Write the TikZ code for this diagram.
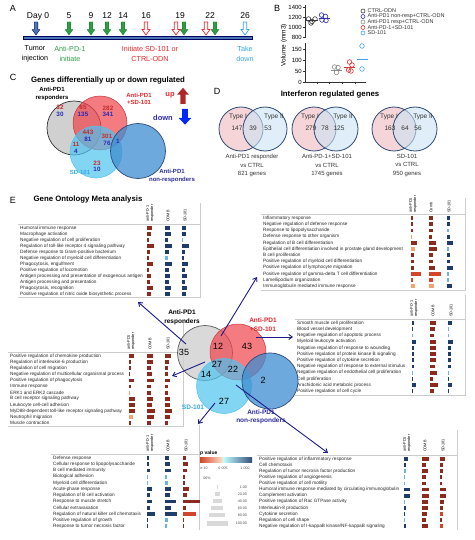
\documentclass[tikz,border=0pt]{standalone}
\usepackage{fontspec}
\setmainfont{Liberation Sans}
\usetikzlibrary{arrows.meta}

\definecolor{navyarr}{HTML}{1C1C8C}
\definecolor{dred}{HTML}{8A2B1D}
\definecolor{mred}{HTML}{D2452B}
\definecolor{orng}{HTML}{F2A46E}
\definecolor{dblue}{HTML}{1F3D6B}
\definecolor{lblue}{HTML}{6CB4E2}
\definecolor{tgreen}{HTML}{2E9E45}
\definecolor{tred}{HTML}{E8262B}
\definecolor{tcyan}{HTML}{33A9E0}
\definecolor{tnavy}{HTML}{2B2B9B}
\definecolor{barblue}{HTML}{4A78B2}
\definecolor{cred}{HTML}{C42A2A}
\definecolor{cblue}{HTML}{2A2AB8}
\definecolor{vgrey}{HTML}{C4C4C4}
\definecolor{vred}{HTML}{F0434A}
\definecolor{vcyan}{HTML}{4EC3F0}
\definecolor{vblue}{HTML}{3C8CD0}
\definecolor{dpink}{HTML}{F6D5D8}
\definecolor{dlblue}{HTML}{C9E3F3}
\definecolor{dring}{HTML}{2D4A78}
\definecolor{ctrlc}{HTML}{3A3A3A}
\definecolor{nonc}{HTML}{3030B0}
\definecolor{respc}{HTML}{8A8A8A}
\definecolor{combc}{HTML}{E03030}
\definecolor{sdc}{HTML}{4AA0E0}

\tikzset{
  every node/.style={inner sep=0pt},
  plabel/.style={font=\fontsize{9}{9}\selectfont},
  ptitle/.style={font=\bfseries\fontsize{7.8}{8}\selectfont},
  daylbl/.style={font=\fontsize{8.5}{8.5}\selectfont},
  sublbl/.style={align=center, font=\fontsize{7.2}{9.6}\selectfont},
  tick/.style={font=\fontsize{6}{6}\selectfont},
  leg/.style={anchor=west, font=\fontsize{5.5}{5.5}\selectfont, text=black!80},
  dpt/.style={draw=#1, line width=0.6pt},
  axis/.style={draw=black!80, line width=0.5pt},
  cnum/.style={align=center, font=\bfseries\fontsize{6.3}{6.6}\selectfont},
  clbl/.style={align=center, font=\bfseries\fontsize{6}{7.6}\selectfont},
  elbl/.style={align=center, font=\bfseries\fontsize{6.5}{8.5}\selectfont},
  enum/.style={font=\fontsize{9}{9}\selectfont},
  dtxt/.style={font=\fontsize{6.5}{6.5}\selectfont, text=black!80},
  dlbl/.style={align=center, font=\fontsize{6}{8.5}\selectfont, text=black!80},
  goitem/.style={anchor=west, font=\fontsize{4.7}{4.7}\selectfont, text=black!85},
  gohead/.style={rotate=90, anchor=west, align=left, font=\fontsize{3.8}{4.2}\selectfont},
  goframe/.style={draw=black!20, line width=0.4pt},
  goarrow/.style={draw=navyarr, line width=0.9pt, -{Straight Barb[length=3.5pt,width=5pt]}},
  legtxt/.style={font=\fontsize{3.6}{3.6}\selectfont, text=black!70},
  dayarrow/.pic={\path[pic actions] (-1.8,0) -- (1.8,0) -- (1.8,7.5) -- (3.9,7.5) -- (0,13) -- (-3.9,7.5) -- (-1.8,7.5) -- cycle;},
}

\newcommand{\gobox}[8]{%
  \foreach[count=\i] \t/\wa/\ca/\wb/\cb/\wc/\cc in {#8}{%
    \pgfmathsetmacro{\ry}{#3+(\i-1)*#4}
    \node[goitem] (#1-\i) at (#2,\ry) {\t};
    \fill[\ca] (#5,\ry-1.9) rectangle ++(\wa,3.8);
    \fill[\cb] (#6,\ry-1.9) rectangle ++(\wb,3.8);
    \fill[\cc] (#7,\ry-1.9) rectangle ++(\wc,3.8);
  }}

\begin{document}
\begin{tikzpicture}[x=1pt, y=-1pt]
\useasboundingbox (0,0) rectangle (474,540);

% A
\node[plabel] (la) at (13,8) {A};
\fill[barblue, draw=black!60!blue, line width=0.4pt] (23,36.5) rectangle (252,39.5);
\pic[fill=barblue, draw=black!60!blue, line width=0.4pt] at (36,22) {dayarrow};
\foreach \x in {69,91,107,123,184,215}
  \pic[fill=tgreen, draw=tgreen!70!black, line width=0.3pt] at (\x,22) {dayarrow};
\foreach \x in {146,176,206}
  \pic[fill=white, draw=tred, line width=0.7pt] at (\x,22) {dayarrow};
\pic[fill=white, draw=tcyan, line width=0.7pt] at (245,22) {dayarrow};
\node[daylbl] (day0) at (38,16) {Day 0};
\foreach \d/\x in {5/69,9/91,12/107,14/123,16/146,19/180,22/210,26/245}
  \node[daylbl] (day\d) at (\x,16) {\d};
\node[sublbl] (tum) at (35,54) {Tumor\\injection};
\node[sublbl, text=tgreen] (apd) at (70,54) {Anti-PD-1\\initiate};
\node[sublbl, text=tred] (ini) at (150,54) {Initiate SD-101 or\\CTRL-ODN};
\node[sublbl, text=tcyan] (tak) at (245,54) {Take\\down};

% B
\node[plabel] (lb) at (277,8) {B};
\draw[axis] (305,5) -- (305,38);
\draw[axis] (305,43) -- (305,82) -- (366,82);
\foreach \v/\y in {1400/7,1200/17,1000/27,800/37,150/49,100/60,50/71,0/82}{
  \draw[axis] (302.5,\y) -- (305,\y);
  \node[tick, anchor=east] (yt\v) at (302,\y) {\v};
}
\foreach \x in {317,329,342,355}
  \draw[axis] (\x,82) -- (\x,84);
\node[rotate=90, font=\fontsize{6.5}{6.5}\selectfont] (vol) at (284,45) {Volume (mm3)};
\foreach \x/\y in {308.5/19,312/21.5,315/19,311/23}
  \draw[dpt=ctrlc] (\x,\y) circle (2.3);
\draw[ctrlc, line width=0.6pt] (306,20.5) -- (317.5,20.5);
\foreach \x/\y in {321.5/15,325.5/16.5,322/20,326/20.5}
  \draw[dpt=nonc] (\x,\y) circle (2.3);
\draw[nonc, line width=0.6pt] (318.5,18.5) -- (329.5,18.5);
\foreach \x/\y in {334.5/67,338/67.5,336.5/72.5}
  \draw[dpt=respc] (\x,\y) circle (2.3);
\draw[respc, line width=0.6pt] (331,70) -- (342,70);
\foreach \x/\y in {349.5/62,352/65,348.5/70,351/71}
  \draw[dpt=combc] (\x,\y) circle (2.3);
\draw[combc, line width=0.6pt] (344,67) -- (355,67);
\foreach \x/\y in {362/46,362/69}
  \draw[dpt=sdc] (\x,\y) circle (2.3);
\draw[sdc, line width=0.6pt] (356.5,59) -- (367.5,59);
\foreach \c/\y/\t in {ctrlc/11/CTRL-ODN, nonc/16.5/Anti-PD1 non-resp+CTRL-ODN, respc/22/Anti-PD1 resp+CTRL-ODN, combc/27.5/Anti-PD-1+SD-101, sdc/33/SD-101}{
  \draw[dpt=\c] (363,\y) circle (2);
  \node[leg] (lg\y) at (367.5,\y) {\t};
}

% C
\node[plabel] (lc) at (13,77) {C};
\node[ptitle] (ctitle) at (108,81) {Genes differentially up or down regulated};
\node[circle, minimum size=54, fill=vgrey, fill opacity=0.8, draw=black!80, line width=0.7pt] (cresp) at (74,128) {};
\node[circle, minimum size=54, fill=vred, fill opacity=0.7, draw=vred!80!black, line width=0.5pt] (ccomb) at (100,123) {};
\node[circle, minimum size=52, fill=vcyan, fill opacity=0.7, draw=vcyan, line width=0.5pt] (csd) at (96,152) {};
\node[circle, minimum size=55, fill=vblue, fill opacity=0.75, draw=dring, line width=0.7pt] (cnon) at (138,151) {};
\node[clbl] (cresl) at (52,94) {Anti-PD1\\responders};
\node[clbl, text=tred] (ccoml) at (139,99) {Anti-PD1\\+SD-101};
\node[clbl, text=tcyan] (csdl) at (80,172) {SD-101};
\node[clbl, text=tnavy] (cnonl) at (172,176) {Anti-PD1\\non-responders};
\node[cnum] (c32) at (60,111) {\textcolor{cred}{32}\\\textcolor{cblue}{30}};
\node[cnum] (c65) at (83,111) {\textcolor{cred}{65}\\\textcolor{cblue}{135}};
\node[cnum] (c282) at (108,111.5) {\textcolor{cred}{282}\\\textcolor{cblue}{341}};
\node[cnum] (c443) at (88,136) {\textcolor{cred}{443}\\\textcolor{cblue}{81}};
\node[cnum] (c301) at (107,140) {\textcolor{cred}{301}\\\textcolor{cblue}{76}};
\node[cnum, text=cblue] (c1) at (118,141) {1};
\node[cnum] (c11) at (76,148) {\textcolor{cred}{11}\\\textcolor{cblue}{4}};
\node[cnum] (c23) at (97,166.5) {\textcolor{cred}{23}\\\textcolor{cblue}{10}};
\node[font=\bfseries\fontsize{7.5}{7.5}\selectfont, text=tred] (cup) at (170,95) {up};
\node[font=\bfseries\fontsize{7.5}{7.5}\selectfont, text=cblue] (cdown) at (163,118) {down};
\pic[fill=cred!90!black, xscale=1.5, yscale=1.25, rotate=180] at (183,104) {dayarrow};
\pic[fill=blue!85!cyan, xscale=1.6, yscale=1.2] at (185,109) {dayarrow};

% D
\node[plabel] (ld) at (217,91) {D};
\node[ptitle] (dtitle) at (330,95) {Interferon regulated genes};
\foreach \p/\a/\b in {1/241/265, 2/314/336, 3/394/415}{
  \node[circle, minimum size=44, fill=dpink, draw=dring, line width=0.8pt] (dv\p a) at (\a,129) {};
  \node[circle, minimum size=44, fill=dlblue, fill opacity=0.6, draw=dring, line width=0.8pt] (dv\p b) at (\b,129) {};
}
\node[dtxt] (d1t1) at (238,117) {Type I};
\node[dtxt] (d1n1) at (237,128) {147};
\node[dtxt] (d1n2) at (253,128) {39};
\node[dtxt] (d1n3) at (268,128) {53};
\node[dtxt] (d1t2) at (274,117) {Type II};
\node[dtxt] (d2t1) at (310,117) {Type I};
\node[dtxt] (d2n1) at (311,128) {279};
\node[dtxt] (d2n2) at (325,128) {78};
\node[dtxt] (d2n3) at (339,128) {125};
\node[dtxt] (d2t2) at (343,117) {Type II};
\node[dtxt] (d3t1) at (389,117) {Type I};
\node[dtxt] (d3n1) at (390,128) {163};
\node[dtxt] (d3n2) at (405,128) {64};
\node[dtxt] (d3n3) at (418,128) {56};
\node[dtxt] (d3t2) at (423,117) {Type II};
\node[dlbl] (d1l) at (252,165.5) {Anti-PD1 responder\\vs CTRL\\821 genes};
\node[dlbl] (d2l) at (327,165.5) {Anti-PD-1+SD-101\\vs CTRL\\1745 genes};
\node[dlbl] (d3l) at (407,165.5) {SD-101\\vs CTRL\\950 genes};

% E
\node[plabel] (le) at (13,200) {E};
\node[ptitle] (etitle) at (88,200) {Gene Ontology Meta analysis};

% GO box 1
\draw[goframe] (18,224.5) -- (200,224.5) (200,203) -- (200,297) -- (18,297);
\node[gohead] (h1a) at (150,222) {anti-PD-1\\responder};
\node[gohead] (h1b) at (168,222) {COMB};
\node[gohead] (h1c) at (185,222) {SD-101};
\gobox{go1}{20}{228}{6.0}{147}{165}{182}{
{Humoral immune response}/5/dred/5/dblue/4/dblue,
{Macrophage activation}/4/dred/6/dblue/4/dblue,
{Negative regulation of cell proliferation}/1.5/dred/3/dblue/1/lblue,
{Regulation of toll-like receptor 4 signaling pathway}/7/dred/7/dblue/7/dblue,
{Defense response to Gram-positive bacterium}/3/dred/4/dblue/3/dblue,
{Negative regulation of myeloid cell differentiation}/2/dred/3/lblue/2/dblue,
{Phagocytosis, engulfment}/6/dred/7/dblue/6/dblue,
{Positive regulation of locomotion}/1.5/dred/4/dblue/3/dblue,
{Antigen processing and presentation of exogenous antigen}/4/dred/5/dblue/5/dblue,
{Antigen processing and presentation}/3/dred/4/dblue/3/dblue,
{Phagocytosis, recognition}/6/dred/6/dblue/5/dblue,
{Positive regulation of nitric oxide biosynthetic process}/4/dred/5/dblue/4/dblue}

% GO box 2
\draw[goframe] (261,214.5) -- (465,214.5) (465,198) -- (465,290) -- (261,290);
\node[gohead] (h2a) at (413,213) {anti-PD1\\responder};
\node[gohead] (h2b) at (431,213) {Comb};
\node[gohead] (h2c) at (449,213) {SD-101};
\gobox{go2}{263}{218}{6.2}{411}{429}{447}{
{Inflammatory response}/2/dred/4/dred/3/dblue,
{Negative regulation of defense response}/2/dred/4/dred/3/dblue,
{Response to lipopolysaccharide}/2/dred/4/dred/2/lblue,
{Defense response to other organism}/1/orng/3/dred/3/dblue,
{Regulation of B cell differentiation}/6/dred/7/dred/6/dblue,
{Epithelial cell differentiation involved in prostate gland development}/4/orng/8/dred/1.5/lblue,
{B cell proliferation}/3/dred/4/dred/3/dblue,
{Positive regulation of myeloid cell differentiation}/3/dred/4/dred/3/dblue,
{Positive regulation of lymphocyte migration}/3/dred/6/dred/6/dblue,
{Positive regulation of gamma-delta T cell differentiation}/10/mred/12/mred/2/lblue,
{Lamellipodium organization}/2/mred/4/mred/2/lblue,
{Immunoglobulin mediated immune response}/4/orng/5/orng/5/dblue}

% GO box 3
\draw[goframe] (8,352.5) -- (183,352.5) (183,322) -- (183,426) -- (8,426);
\node[gohead] (h3a) at (131,350) {anti-PD1\\responder};
\node[gohead] (h3b) at (150,350) {COMB};
\node[gohead] (h3c) at (168,350) {SD-101};
\gobox{go3}{10}{356}{6.1}{129}{147}{165}{
{Positive regulation of chemokine production}/5/dred/6/dred/6/dred,
{Regulation of interleukin-6 production}/2/dred/6/dred/4/dred,
{Regulation of cell migration}/2/dred/4/dred/3/dred,
{Negative regulation of multicellular organismal process}/1/dred/5/dred/3/dred,
{Positive regulation of phagocytosis}/5/dred/7/dred/5/dred,
{Immune response}/2/dred/4/dred/3/dred,
{ERK1 and ERK2 cascade}/1/orng/4/dred/3/dred,
{B cell receptor signaling pathway}/6/dred/6/dred/5/dred,
{Leukocyte cell-cell adhesion}/6/dred/5/dred/5/dred,
{MyD88-dependent toll-like receptor signaling pathway}/6/dred/8/dred/7/dred,
{Neutrophil migration}/4/orng/7/dred/5/dred,
{Muscle contraction}/2/dred/4/dred/3/dred}

% GO box 4
\draw[goframe] (295,319.5) -- (465,319.5) (465,295) -- (465,395) -- (295,395);
\node[gohead] (h4a) at (414,317) {anti-PD-1\\responder};
\node[gohead] (h4b) at (433,317) {COMB};
\node[gohead] (h4c) at (451,317) {SD-101};
\gobox{go4}{297}{323}{6.2}{412}{430}{448}{
{Smooth muscle cell proliferation}/2/dblue/6/dred/4/dblue,
{Blood vessel development}/1/dblue/5/dred/1/lblue,
{Negative regulation of apoptotic process}/1/lblue/4/dred/1/lblue,
{Myeloid leukocyte activation}/4/dblue/6/dred/5/dblue,
{Negative regulation of response to wounding}/2/dblue/6/dred/3/dblue,
{Positive regulation of protein kinase B signaling}/2/dblue/6/dred/3/dblue,
{Positive regulation of cytokine secretion}/2/dblue/6/dred/3/dblue,
{Negative regulation of response to external stimulus}/2/dblue/5/dred/3/dblue,
{Negative regulation of endothelial cell proliferation}/1/lblue/7/dred/1/lblue,
{Cell proliferation}/1/dblue/3/dred/1/dblue,
{Arachidonic acid metabolic process}/4/dblue/8/dred/4/dblue,
{Positive regulation of cell cycle}/1/dblue/4/dred/1/dblue}

% GO box 5
\draw[goframe] (51,454.5) -- (199,454.5) (199,425) -- (199,530);
\node[gohead] (h5a) at (150,452) {anti-PD-1\\responder};
\node[gohead] (h5b) at (168,452) {COMB};
\node[gohead] (h5c) at (186,452) {SD-101};
\gobox{go5}{53}{458}{6.2}{147}{165}{183}{
{Defense response}/2/dblue/4/dblue/3/dred,
{Cellular response to lipopolysaccharide}/2/dblue/5/dblue/5/dred,
{B cell mediated immunity}/3/dblue/6/dblue/4/dred,
{Biological adhesion}/1/lblue/2/lblue/2/dred,
{Myeloid cell differentiation}/1/lblue/3/lblue/2/dred,
{Acute-phase response}/5/dblue/6/dblue/6/dred,
{Regulation of B cell activation}/3/dblue/5/dblue/4/dred,
{Response to muscle stretch}/5/dblue/11/dblue/17/dred,
{Cellular extravasation}/3/dblue/6/dblue/3/dred,
{Regulation of natural killer cell chemotaxis}/8/dblue/12/dblue/13/mred,
{Positive regulation of growth}/1/dblue/3/lblue/1/dred,
{Response to tumor necrosis factor}/1/dblue/2/lblue/1/dred}

% GO box 6
\draw[goframe] (257,455.5) -- (457,455.5) (457,430) -- (457,530);
\node[gohead] (h6a) at (407,452) {anti-PD1\\responder};
\node[gohead] (h6b) at (425,452) {COMB};
\node[gohead] (h6c) at (443,452) {SD-101};
\gobox{go6}{259}{459}{6.1}{404}{422}{440}{
{Positive regulation of inflammatory response}/4/dblue/7/dred/5/dred,
{Cell chemotaxis}/2/dblue/4/dred/3/dred,
{Regulation of tumor necrosis factor production}/2/lblue/6/dred/3/dred,
{Positive regulation of angiogenesis}/1/lblue/4/dred/2/dred,
{Positive regulation of cell motility}/1/lblue/4/dred/2/dred,
{Humoral immune response mediated by circulating immunoglobulin}/6/dblue/7/dred/6/dred,
{Complement activation}/6/dblue/7/dred/6/dred,
{Positive regulation of Rac GTPase activity}/1/lblue/6/dred/4/dred,
{Interleukin-8 production}/2/dblue/6/dred/3/dred,
{Cytokine secretion}/1/dblue/5/dred/3/mred,
{Regulation of cell shape}/1/lblue/4/dred/2/dred,
{Negative regulation of I-kappaB kinase/NF-kappaB signaling}/2/dblue/6/dred/3/mred}

% p value legend
\node[anchor=west, font=\bfseries\fontsize{5}{5}\selectfont] (pval) at (200,453.5) {p value};
\shade[left color=mred, right color=orange!20] (200,457) rectangle (223,462.5);
\shade[left color=cyan!25, right color=dblue!90] (223,457) rectangle (252,462.5);
\node[legtxt] (pe10) at (204,468) {e-10};
\node[legtxt] (p005) at (223,468) {0.005};
\node[legtxt] (p1) at (245,468) {1.000};
\node[legtxt] (ppct) at (207,478) {06\%};
\foreach \y/\w/\t in {487/0.6/1.00, 494/5/20.00, 501/9/40.00, 508/12/60.00, 515/16/80.00, 523.5/21/100.00}{
  \fill[black!15] (217-\w/2,\y-2.4) rectangle (217+\w/2,\y+2.4);
  \node[legtxt, anchor=east] (pp\y) at (247,\y) {\t};
}

% E venn
\node[circle, minimum size=55, fill=vgrey!80, fill opacity=0.8, draw=black!65, line width=0.7pt] (eresp) at (205,353) {};
\node[circle, minimum size=56, fill=vred, fill opacity=0.7, draw=vred!85!black, line width=0.5pt] (ecomb) at (238,352) {};
\node[circle, minimum size=55, fill=vcyan, fill opacity=0.7, draw=vcyan, line width=0.5pt] (esd) at (224,386) {};
\node[circle, minimum size=56, fill=vblue, fill opacity=0.75, draw=dring, line width=0.7pt] (enon) at (270,381) {};
\node[elbl] (eresl) at (182,317.5) {Anti-PD1\\responders};
\node[elbl, text=tred] (ecoml) at (263,324.5) {Anti-PD1\\+SD-101};
\node[elbl, text=tcyan] (esdl) at (193,407) {SD-101};
\node[elbl, text=tnavy] (enonl) at (261,417) {Anti-PD1\\non-responders};
\node[enum] (e35) at (184,352) {35};
\node[enum] (e12) at (218,346) {12};
\node[enum] (e43) at (247,346) {43};
\node[enum] (e27a) at (217,364) {27};
\node[enum] (e14) at (206,374) {14};
\node[enum] (e22) at (233,369) {22};
\node[enum] (e2) at (263,380) {2};
\node[enum] (e27b) at (224,401) {27};

\coordinate (s1) at (186,344); \coordinate (t1) at (138,302);
\coordinate (s2) at (205,362); \coordinate (t2) at (172,376);
\coordinate (s3) at (221,336); \coordinate (t3) at (257,277);
\coordinate (s4) at (256,337); \coordinate (t4) at (293,337);
\coordinate (s5) at (236,385); \coordinate (t5) at (328,453);
\coordinate (s6) at (215,403); \coordinate (t6) at (198,424);
\draw[goarrow] (s1) -- (t1);
\draw[goarrow] (s2) -- (t2);
\draw[goarrow] (s3) -- (t3);
\draw[goarrow] (s4) -- (t4);
\draw[goarrow] (s5) -- (t5);
\draw[goarrow] (s6) -- (t6);

\end{tikzpicture}
\end{document}
